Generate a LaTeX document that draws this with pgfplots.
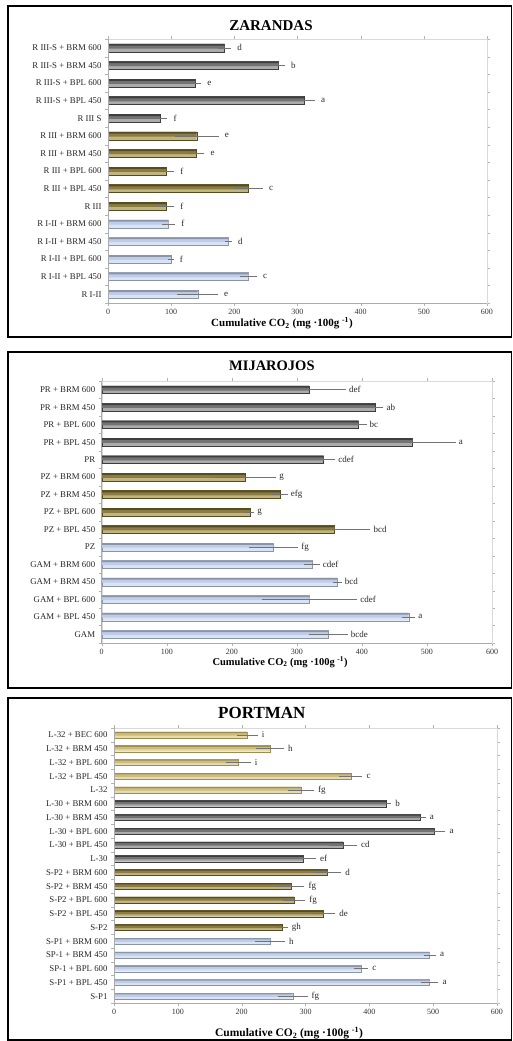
\documentclass[border=0pt]{standalone}
\usepackage{pgfplots}
\pgfplotsset{compat=1.18}
\usepackage{pgfplotstable}
\usepackage{fontspec}
\setmainfont{Liberation Serif}

\definecolor{dkTop}{HTML}{3E3E3E}
\definecolor{dkMid}{HTML}{737373}
\definecolor{dkBot}{HTML}{ABABAB}
\definecolor{olTop}{HTML}{564C22}
\definecolor{olMid}{HTML}{8A7C44}
\definecolor{olBot}{HTML}{C2B47E}
\definecolor{lbTop}{HTML}{8A94A6}
\definecolor{lbMid}{HTML}{BFCDE6}
\definecolor{lbBot}{HTML}{D8E3F5}
\definecolor{khTop}{HTML}{9E8E4E}
\definecolor{khMid}{HTML}{CBBC80}
\definecolor{khBot}{HTML}{E6DBAE}

% ZARANDAS
\pgfplotstableread{
y v e l
0 142 29 e
1 222.5 10 c
2 99.5 1.5 f
3 190.5 2.5 d
4 96 7 f
}\zA
\pgfplotstableread{
y v e l
5 92 9.5 f
6 222 20 c
7 92.5 9 f
8 139.5 10 e
9 140.5 31.5 e
}\zB
\pgfplotstableread{
y v e l
10 82 9 f
11 310 14.5 a
12 138.5 6 e
13 270 7 b
14 184.7 7 d
}\zC
% MIJAROJOS
\pgfplotstableread{
y v e l
0 348 27 bcde
1 472 7 a
2 319.5 70 cdef
3 362 4 bcd
4 323 9 cdef
5 264 35 fg
}\mA
\pgfplotstableread{
y v e l
6 358 52 bcd
7 228 3.5 g
8 274 9 efg
9 220 45 g
}\mB
\pgfplotstableread{
y v e l
10 341 15 cdef
11 478 63 a
12 395 9 bc
13 420 10 ab
14 318.5 54 def
}\mC
% PORTMAN
\pgfplotstableread{
y v e l
0 280 20 fg
1 494.5 10.5 a
2 387 8 c
3 494.5 6.5 a
4 244.5 20 h
}\pA
\pgfplotstableread{
y v e l
5 263 6 gh
6 328 15.5 de
7 282.5 14 fg
8 278 17 fg
9 334.7 18 d
}\pB
\pgfplotstableread{
y v e l
10 296.6 16.5 ef
11 359 18.5 cd
12 502 14 a
13 479 6 a
14 426 5 b
}\pC
\pgfplotstableread{
y v e l
15 292.7 17.5 fg
16 371 15 c
17 195 16 i
18 244 19 h
19 209 13 i
}\pD

% #1 table, #2 top colour, #3 middle colour, #4 bottom colour, #5 letter shift
\newcommand{\grp}[5]{%
 \addplot[xbar, bar shift=0, bar width=0.45, draw=#2, line width=0.35pt, fill=#4] table[x=v,y=y]{#1};
 \addplot[xbar, bar shift=0.09, bar width=0.27, draw=none, fill=#3] table[x=v,y=y]{#1};
 \addplot[xbar, bar shift=0.175, bar width=0.10, draw=none, fill=#2] table[x=v,y=y]{#1};
 \addplot[draw=none, error bars/.cd, x dir=both, x explicit, error bar style={draw=black!55, line width=0.5pt, solid}, error mark options={draw=black!55, mark size=2pt, line width=0.5pt}] table[x=v,y=y,x error=e]{#1};
 \addplot[draw=none, nodes near coords, point meta=explicit symbolic, nodes near coords style={anchor=west, inner sep=0pt, xshift=#5, font=\fontsize{9}{10}\selectfont, text=black!85}] table[x expr=\thisrow{v}+\thisrow{e}, y=y, meta=l]{#1};
}

\pgfplotsset{panel/.style={
  scale only axis, xmin=0, xmax=600, xtick={0,100,...,600}, ymin=-0.5,
  axis line style={draw=gray!30},
  clip=false,
  every axis title shift=0pt,
  /pgf/number format/assume math mode=true,
  xticklabel style={font=\fontsize{8}{9}\selectfont, text=black!80},
  yticklabel style={font=\fontsize{8.8}{10}\selectfont, text=black!85},
  ytick={0,...,19},
  ytick style={draw=none},
  xtick style={draw=gray!60},
  tick align=outside, major tick length=3pt,
  minor ytick={-0.5,0.5,...,19.5}, minor tick length=3pt,
  minor y tick style={draw=gray!60},
  after end axis/.code={\draw[gray!65, line width=0.5pt] (rel axis cs:0,1)--(rel axis cs:0,0)--(rel axis cs:1,0);},
}}

\begin{document}
\begin{tikzpicture}
\useasboundingbox (0,0) rectangle (513pt,-1041pt);
\draw[line width=1.6pt] (8pt,-6pt) rectangle (511.5pt,-337pt);
\draw[line width=1.6pt] (8pt,-352pt) rectangle (511.5pt,-688pt);
\draw[line width=1.6pt] (8pt,-698pt) rectangle (511.5pt,-1040.2pt);

\begin{axis}[panel, at={(108pt,-303pt)}, anchor=south west, width=379pt, height=264pt,
  ymax=14.5,
  yticklabels={R I-II, R I-II + BPL 450, R I-II + BPL 600, R I-II + BRM 450, R I-II + BRM 600, R III, R III + BPL 450, R III + BPL 600, R III + BRM 450, R III + BRM 600, R III S, R III-S + BPL 450, R III-S + BPL 600, R III-S + BRM 450, R III-S + BRM 600},
  title={ZARANDAS},
  title style={at={(axis description cs:0.43,1.049)}, anchor=center, font=\bfseries\fontsize{15}{16}\selectfont},
  xlabel={Cumulative CO\textsubscript{2} (mg ·100g \textsuperscript{-1})},
  xlabel style={at={(axis description cs:0.459,-0.076)}, anchor=center, font=\bfseries\fontsize{11}{12}\selectfont},
]
\grp{\zA}{lbTop}{lbMid}{lbBot}{8pt}
\grp{\zB}{olTop}{olMid}{olBot}{8pt}
\grp{\zC}{dkTop}{dkMid}{dkBot}{8pt}
\end{axis}

\begin{axis}[panel, at={(101.7pt,-643pt)}, anchor=south west, width=390.3pt, height=262pt,
  ymax=14.5,
  yticklabels={GAM, GAM + BPL 450, GAM + BPL 600, GAM + BRM 450, GAM + BRM 600, PZ, PZ + BPL 450, PZ + BPL 600, PZ + BRM 450, PZ + BRM 600, PR, PR + BPL 450, PR + BPL 600, PR + BRM 450, PR + BRM 600},
  title={MIJAROJOS},
  title style={at={(axis description cs:0.436,1.057)}, anchor=center, font=\bfseries\fontsize{14.5}{16}\selectfont},
  xlabel={Cumulative CO\textsubscript{2} (mg ·100g \textsuperscript{-1})},
  xlabel style={at={(axis description cs:0.457,-0.0725)}, anchor=center, font=\bfseries\fontsize{10.5}{12}\selectfont},
]
\grp{\mA}{lbTop}{lbMid}{lbBot}{5pt}
\grp{\mB}{olTop}{olMid}{olBot}{5pt}
\grp{\mC}{dkTop}{dkMid}{dkBot}{5pt}
\end{axis}

\begin{axis}[panel, at={(114pt,-1003pt)}, anchor=south west, width=383pt, height=275pt,
  ymax=19.5,
  yticklabels={S-P1, S-P1 + BPL 450, SP-1 + BPL 600, SP-1 + BRM 450, S-P1 + BRM 600, S-P2, S-P2 + BPL 450, S-P2 + BPL 600, S-P2 + BRM 450, S-P2 + BRM 600, L-30, L-30 + BPL 450, L-30 + BPL 600, L-30 + BRM 450, L-30 + BRM 600, L-32, L-32 + BPL 450, L-32 + BPL 600, L-32 + BRM 450, L-32 + BEC 600},
  title={PORTMAN},
  title style={at={(axis description cs:0.386,1.0545)}, anchor=center, font=\bfseries\fontsize{17}{18}\selectfont},
  xlabel={Cumulative CO\textsubscript{2} (mg ·100g \textsuperscript{-1})},
  xlabel style={at={(axis description cs:0.457,-0.109)}, anchor=center, font=\bfseries\fontsize{11.5}{12}\selectfont},
]
\grp{\pA}{lbTop}{lbMid}{lbBot}{6pt}
\grp{\pB}{olTop}{olMid}{olBot}{6pt}
\grp{\pC}{dkTop}{dkMid}{dkBot}{6pt}
\grp{\pD}{khTop}{khMid}{khBot}{6pt}
\end{axis}
\end{tikzpicture}
\end{document}
